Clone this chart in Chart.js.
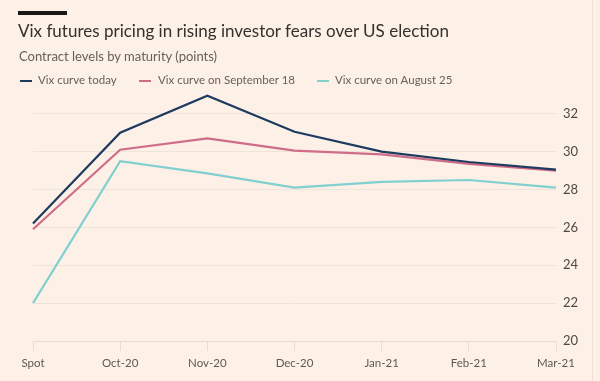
<!DOCTYPE html>
<html>
<head>
<meta charset="utf-8">
<script src="https://cdn.jsdelivr.net/npm/chart.js@4"></script>
<style>
  html, body { margin: 0; padding: 0; background: #fdf0e7; }
  #wrap { position: relative; width: 600px; height: 381px; overflow: hidden; background: #fdf0e7; font-family: "Lato", "Noto Sans", sans-serif; }
  #bar { position: absolute; left: 18px; top: 11px; width: 49px; height: 4px; background: #1a1817; }
  #title { position: absolute; left: 18px; top: 20px; font-size: 17px; color: #33302e; white-space: nowrap; }
  #subtitle { position: absolute; left: 19px; top: 48px; font-size: 13px; color: #66605c; white-space: nowrap; }
  .leg { position: absolute; top: 73px; font-size: 11.5px; color: #66605c; white-space: nowrap; }
  .leg i { position: absolute; top: 7px; width: 12px; height: 2px; }
  .leg span { position: absolute; white-space: nowrap; }
  #rb { position: absolute; left: 592px; top: 0; width: 1px; height: 381px; background: #efe3d9; }
  canvas { position: absolute; left: 0; top: 0; }
</style>
</head>
<body>
<div id="wrap">
  <canvas id="c" width="600" height="381"></canvas>
  <div id="bar"></div>
  <div id="title">Vix futures pricing in rising investor fears over US election</div>
  <div id="subtitle">Contract levels by maturity (points)</div>
  <div id="legend"></div>
  <div id="rb"></div>
</div>
<script>
const categories = ["Spot", "Oct-20", "Nov-20", "Dec-20", "Jan-21", "Feb-21", "Mar-21"];
const seriesNames = ["Vix curve today", "Vix curve on September 18", "Vix curve on August 25"];
const vixToday = [26.2, 31.0, 32.95, 31.05, 30.0, 29.45, 29.05];
const vixSep18 = [25.9, 30.1, 30.7, 30.05, 29.85, 29.35, 29.0];
const vixAug25 = [22.0, 29.5, 28.85, 28.1, 28.4, 28.5, 28.1];
const yTicks = [20, 22, 24, 26, 28, 30, 32];
const colors = ["#1d3a5f", "#cf6d89", "#80d0cf"];

const legendX = [[20, 38], [139, 158], [317, 335]];
const legend = document.getElementById("legend");
seriesNames.forEach((n, i) => {
  const d = document.createElement("div");
  d.className = "leg";
  d.style.left = "0px";
  d.innerHTML = '<i style="left:' + legendX[i][0] + 'px;background:' + colors[i] + '"></i><span style="left:' + legendX[i][1] + 'px">' + n + '</span>';
  legend.appendChild(d);
});

const allSeries = [vixToday, vixSep18, vixAug25];
new Chart(document.getElementById("c"), {
  type: "line",
  data: {
    labels: categories,
    datasets: allSeries.map((s, i) => ({
      label: seriesNames[i],
      data: s,
      borderColor: colors[i],
      backgroundColor: colors[i],
      borderWidth: 2.2,
      pointRadius: 0,
      tension: 0,
      fill: false
    }))
  },
  options: {
    responsive: false,
    animation: false,
    devicePixelRatio: 1,
    layout: { padding: { top: 91, left: 33, right: 0, bottom: 0 } },
    plugins: { legend: { display: false }, title: { display: false }, tooltip: { enabled: false } },
    scales: {
      x: {
        offset: false,
        afterFit: (s) => { s.height = 40; },
        grid: { display: true, drawOnChartArea: false, drawTicks: true, tickLength: 10, color: "#e6dcd3", lineWidth: 1 },
        border: { display: false },
        ticks: { color: "#5e5955", font: { family: "Lato, 'Noto Sans', sans-serif", size: 11.5 }, padding: 5, maxRotation: 0, autoSkip: false }
      },
      y: {
        position: "right",
        min: 20,
        max: 33.2,
        afterFit: (s) => { s.width = 44; },
        afterBuildTicks: (s) => { s.ticks = yTicks.map(v => ({ value: v })); },
        grid: { color: (ctx) => ctx.tick && ctx.tick.value === 20 ? "#e6dcd3" : "#efe4da", lineWidth: 1, drawTicks: false },
        border: { display: false },
        ticks: { color: "#4d4845", font: { family: "Lato, 'Noto Sans', sans-serif", size: 13 }, padding: 7 }
      }
    }
  }
});
</script>
</body>
</html>
